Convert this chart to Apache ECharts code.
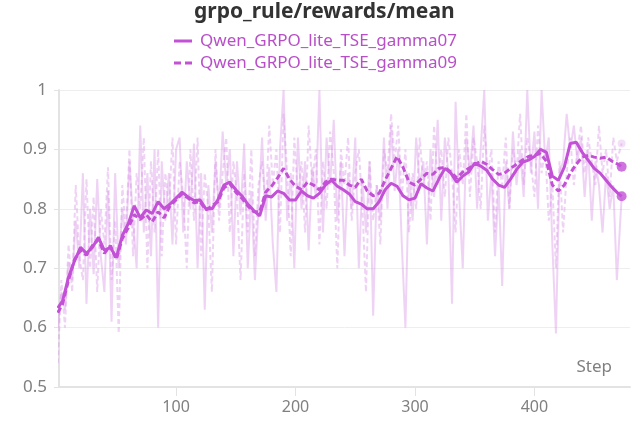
<!DOCTYPE html>
<html>
<head>
<meta charset="utf-8">
<script src="https://cdn.jsdelivr.net/npm/echarts@6/dist/echarts.min.js"></script>
<style>
  html, body { margin: 0; padding: 0; background: #fff; }
  #main { width: 639px; height: 432px; }
</style>
</head>
<body>
<div id="main"></div>
<script>
// raw values, one every 3 steps (1, 4, 7, ... 469), last point at 473
var rawSteps = [];
for (var s = 1; s <= 469; s += 3) rawSteps.push(s);
rawSteps.push(473);

var raw07 = [0.60,0.66,0.63,0.71,0.68,0.78,0.70,0.86,0.64,0.80,0.69,0.85,0.72,0.66,0.83,0.61,0.86,0.70,0.80,0.74,
  0.88,0.78,0.70,0.94,0.76,0.86,0.72,0.90,0.60,0.88,0.78,0.86,0.74,0.90,0.92,0.76,0.88,0.80,0.91,0.70,
  0.86,0.63,0.84,0.76,0.88,0.80,0.93,0.84,0.90,0.72,0.88,0.79,0.91,0.70,0.83,0.68,0.80,0.92,0.78,0.87,
  0.74,0.66,0.90,1.00,0.78,0.86,0.70,0.92,0.80,0.88,0.73,0.87,0.82,1.00,0.76,0.92,0.84,0.95,0.78,0.88,
  0.72,0.86,0.80,0.92,0.70,0.85,0.76,0.88,0.62,0.84,0.78,0.92,0.80,0.94,0.83,0.90,0.74,0.60,0.86,0.78,
  0.92,0.84,0.88,0.74,0.90,0.82,0.95,0.78,0.92,0.86,0.64,0.98,0.82,0.70,0.92,0.86,0.94,0.80,0.90,1.00,
  0.78,0.86,0.72,0.84,0.67,0.88,0.80,0.93,0.84,0.90,0.82,1.00,0.86,0.93,0.80,1.00,0.88,0.92,0.74,0.59,
  0.86,0.88,0.96,0.90,0.94,0.88,0.92,0.82,0.90,0.78,0.88,0.84,0.76,0.86,0.80,0.84,0.68,0.82];

var raw09 = [0.54,0.68,0.60,0.74,0.66,0.84,0.72,0.68,0.85,0.70,0.82,0.66,0.80,0.74,0.87,0.68,0.78,0.59,0.84,0.76,
  0.90,0.72,0.86,0.80,0.92,0.70,0.88,0.76,0.90,0.72,0.86,0.80,0.92,0.74,0.88,0.82,0.70,0.90,0.78,0.92,
  0.72,0.86,0.80,0.66,0.90,0.78,0.86,0.92,0.76,0.88,0.82,0.68,0.86,0.76,0.90,0.72,0.84,0.88,0.80,0.94,
  0.84,0.90,0.76,0.96,0.86,0.72,0.92,0.82,0.88,0.76,0.94,0.84,0.90,0.74,0.88,0.80,0.93,0.86,0.70,0.90,
  0.84,0.92,0.78,0.86,0.90,0.80,0.66,0.88,0.78,0.84,0.74,0.90,0.86,0.96,0.88,0.94,0.82,0.90,0.76,0.86,
  0.80,0.92,0.84,0.88,0.78,0.94,0.84,0.90,0.82,0.92,0.86,0.76,0.90,0.84,0.96,0.82,0.92,0.88,0.80,0.94,
  0.86,0.90,0.76,0.88,0.84,0.92,0.80,0.90,0.86,0.96,0.84,0.92,0.88,0.82,0.94,0.86,0.90,0.78,0.84,0.70,
  0.88,0.76,0.86,0.92,0.84,0.90,0.94,0.86,0.92,0.88,0.84,0.94,0.86,0.90,0.82,0.92,0.88,0.91];

// smoothed values, at steps 1, 5, 10, ... 470, then 473
var smSteps = [1];
for (var t = 5; t <= 470; t += 5) smSteps.push(t);
smSteps.push(473);

var smooth07 = [0.633,0.645,0.685,0.712,0.735,0.725,0.735,0.752,0.730,0.735,0.718,0.755,0.775,0.805,0.785,0.798,
  0.792,0.812,0.800,0.808,0.818,0.828,0.820,0.814,0.815,0.800,0.800,0.815,0.840,0.845,0.832,0.822,
  0.808,0.797,0.788,0.822,0.820,0.830,0.826,0.815,0.815,0.830,0.822,0.818,0.826,0.840,0.848,0.838,
  0.832,0.825,0.812,0.808,0.800,0.800,0.812,0.832,0.843,0.838,0.822,0.815,0.818,0.842,0.835,0.830,
  0.850,0.868,0.860,0.845,0.855,0.862,0.877,0.872,0.865,0.850,0.840,0.836,0.850,0.866,0.878,0.882,
  0.888,0.900,0.895,0.855,0.848,0.870,0.910,0.912,0.895,0.882,0.868,0.860,0.848,0.836,0.826,0.821];

var smooth09 = [0.625,0.640,0.680,0.715,0.730,0.722,0.738,0.748,0.725,0.738,0.715,0.750,0.768,0.790,0.782,0.790,
  0.778,0.795,0.785,0.805,0.815,0.825,0.818,0.810,0.812,0.798,0.805,0.812,0.835,0.842,0.828,0.818,
  0.805,0.795,0.795,0.828,0.838,0.852,0.868,0.850,0.838,0.832,0.845,0.840,0.832,0.845,0.850,0.848,
  0.848,0.840,0.836,0.850,0.830,0.822,0.826,0.848,0.868,0.888,0.870,0.845,0.840,0.850,0.860,0.858,
  0.868,0.870,0.862,0.852,0.862,0.868,0.875,0.880,0.875,0.866,0.858,0.860,0.868,0.875,0.882,0.888,
  0.890,0.893,0.880,0.840,0.830,0.840,0.860,0.875,0.887,0.890,0.887,0.885,0.887,0.880,0.875,0.871];

var xTicks = [100, 200, 300, 400];

function pairs(xs, ys) {
  return ys.map(function (v, i) { return [xs[i], v]; });
}
function last(xs, ys) {
  return [xs[xs.length - 1], ys[ys.length - 1]];
}

var purple = '#c351d6';
var purpleLight = 'rgba(214, 140, 230, 0.38)';

var myChart = echarts.init(document.getElementById('main'), null, { renderer: 'canvas' });

var option = {
  animation: false,
  title: {
    text: 'grpo_rule/rewards/mean',
    left: 189,
    top: -3,
    textStyle: { fontFamily: 'Noto Sans', fontSize: 21, fontWeight: 'bold', color: '#333' }
  },
  legend: {
    orient: 'vertical',
    left: 169,
    top: 25,
    itemGap: 0,
    itemWidth: 18,
    itemHeight: 3,
    data: [
      { name: 'Qwen_GRPO_lite_TSE_gamma07', icon: 'path://M0,0H18V3H0Z' },
      { name: 'Qwen_GRPO_lite_TSE_gamma09', icon: 'path://M0,0H7V3H0Z M11,0H18V3H11Z' }
    ],
    itemStyle: { color: purple },
    lineStyle: { width: 0 },
    textStyle: { fontFamily: 'Noto Sans', fontSize: 17, color: '#b84fc8', padding: [0, 0, 0, 3], lineHeight: 22 }
  },
  grid: { left: 59, right: 9, top: 90, bottom: 45 },
  xAxis: {
    type: 'value',
    min: 2,
    max: 480,
    axisLine: { lineStyle: { color: '#e3e3e3', width: 2 } },
    axisTick: { customValues: xTicks, length: 9, lineStyle: { color: '#e3e3e3', width: 1 } },
    axisLabel: { customValues: xTicks, color: '#808080', fontFamily: 'Noto Sans', fontSize: 16, margin: 12 },
    splitLine: { show: false }
  },
  yAxis: {
    type: 'value',
    min: 0.5,
    max: 1,
    interval: 0.1,
    axisLine: { show: true, lineStyle: { color: '#e3e3e3', width: 2 } },
    axisTick: { show: true, length: 5, lineStyle: { color: '#e3e3e3' } },
    axisLabel: { color: '#808080', fontFamily: 'Noto Sans', fontSize: 17, margin: 12,
      formatter: function (v) { return +v.toFixed(1) + ''; } },
    splitLine: { lineStyle: { color: '#eeeeee' } }
  },
  graphic: [{
    type: 'text',
    right: 27,
    top: 359,
    style: { text: 'Step', fill: '#808080', font: '17px "Noto Sans"' }
  }],
  series: [
    {
      name: 'raw07', type: 'line', symbol: 'none', data: pairs(rawSteps, raw07),
      lineStyle: { color: purpleLight, width: 2 }, z: 1, silent: true
    },
    {
      name: 'raw09', type: 'line', symbol: 'none', data: pairs(rawSteps, raw09),
      lineStyle: { color: purpleLight, width: 2, type: [5, 3] }, z: 1, silent: true
    },
    {
      name: 'Qwen_GRPO_lite_TSE_gamma09', type: 'line', symbol: 'none', data: pairs(smSteps, smooth09),
      lineStyle: { color: purple, width: 3, type: [6, 3] }, itemStyle: { color: purple }, z: 3
    },
    {
      name: 'Qwen_GRPO_lite_TSE_gamma07', type: 'line', symbol: 'none', data: pairs(smSteps, smooth07),
      lineStyle: { color: purple, width: 3 }, itemStyle: { color: purple }, z: 4
    },
    {
      name: 'ends', type: 'scatter', symbolSize: 10, itemStyle: { color: purple }, z: 5, silent: true,
      data: [last(smSteps, smooth07), last(smSteps, smooth09)]
    },
    {
      name: 'rawEnd', type: 'scatter', symbolSize: 8, z: 2, silent: true,
      itemStyle: { color: 'rgba(214, 140, 230, 0.35)' },
      data: [last(rawSteps, raw09)]
    }
  ]
};

myChart.setOption(option);
</script>
</body>
</html>
